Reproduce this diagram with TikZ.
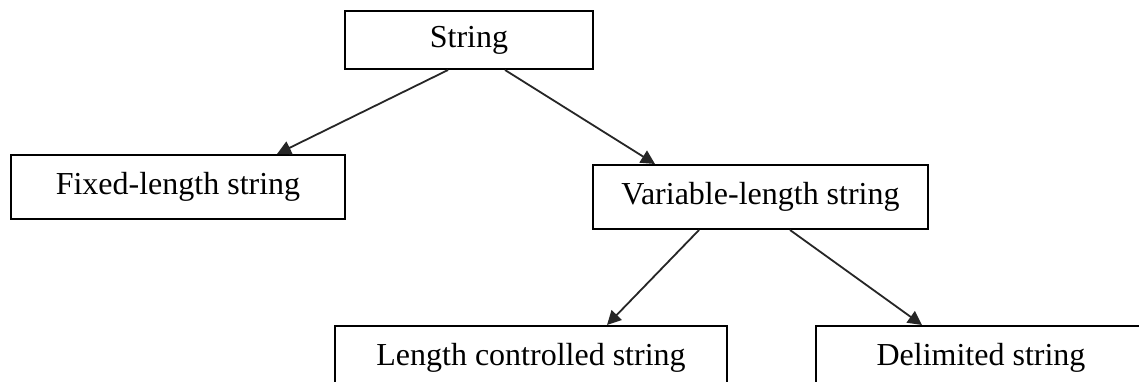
\documentclass[tikz,border=0pt]{standalone}
\usepackage{fontspec}
\setmainfont{Liberation Serif}
\usetikzlibrary{arrows.meta,calc}
\begin{document}
\begin{tikzpicture}[x=0.5pt,y=-0.5pt,
  box/.style={draw=black,line width=1pt,rectangle,inner sep=0pt,font=\fontsize{16}{18}\selectfont},
  conn/.style={draw=black!85,line width=0.9pt,-{Triangle[length=7pt,width=7pt]}}]
\useasboundingbox (0,0) rectangle (1139,381);
\clip (0,0) rectangle (1139,381);
\fill[white] (0,0) rectangle (1139,381);
\node[box,minimum width=124pt,minimum height=29pt] (s) at (469,40) {String};
\node[box,minimum width=167pt,minimum height=32pt] (f) at (178,187) {Fixed-length string};
\node[box,minimum width=167.5pt,minimum height=32pt] (v) at (760.5,197) {Variable-length string};
\node[box,minimum width=196pt,minimum height=32pt] (l) at (531,358) {Length controlled string};
\node[box,minimum width=165pt,minimum height=32pt] (d) at (981,358) {Delimited string};
\draw[conn] ($(s.south)+(-21,0)$) -- ($(f.north)+(99,0)$);
\draw[conn] ($(s.south)+(36,0)$) -- ($(v.north)+(-105.5,0)$);
\draw[conn] ($(v.south)+(-61.5,0)$) -- ($(l.north)+(76,0)$);
\draw[conn] ($(v.south)+(29.5,0)$) -- ($(d.north)+(-59,0)$);
\end{tikzpicture}
\end{document}
